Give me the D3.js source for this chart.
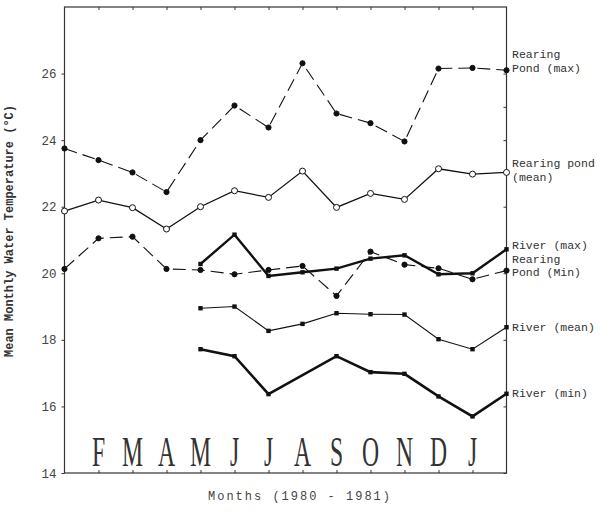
<!DOCTYPE html>
<html>
<head>
<meta charset="utf-8">
<script src="https://cdnjs.cloudflare.com/ajax/libs/d3/7.8.5/d3.min.js"></script>
<style>
  body { margin: 0; background: #fff; }
  svg { display: block; }
</style>
</head>
<body>
<svg width="600" height="518"></svg>
<script>
// month letters under the plot, index 1..12 (index 0 and 13 are the axis edges)
var months = ["F","M","A","M","J","J","A","S","O","N","D","J"];
var yTicks = [14, 16, 18, 20, 22, 24, 26];

// mean monthly water temperature, one value per month index 0..13
var pondMax  = [23.75, 23.4, 23.03, 22.44, 24.0, 25.04, 24.38, 26.31, 24.8, 24.51, 23.96, 26.15, 26.17, 26.1];
var pondMean = [21.87, 22.2, 21.97, 21.33, 22.0, 22.48, 22.28, 23.07, 21.98, 22.4, 22.22, 23.14, 22.98, 23.03];
var pondMin  = [20.13, 21.05, 21.1, 20.13, 20.1, 19.97, 20.1, 20.22, 19.32, 20.65, 20.26, 20.15, 19.82, 20.08];
var riverMax  = [null, null, null, null, 20.28, 21.16, 19.92, 20.03, 20.14, 20.44, 20.54, 19.97, 20.0, 20.72];
var riverMean = [null, null, null, null, 18.95, 19.0, 18.27, 18.48, 18.8, 18.77, 18.76, 18.02, 17.72, 18.38];
var riverMin  = [null, null, null, null, 17.72, 17.51, 16.37, null, 17.51, 17.03, 16.98, 16.3, 15.7, 16.38];

var svg = d3.select("svg");
var x = d3.scaleLinear().domain([0, 13]).range([64.5, 506.5]);
var y = d3.scaleLinear().domain([14, 28]).range([473, 7]);

var mono = "'Liberation Mono', 'DejaVu Sans Mono', monospace";

// frame
svg.append("rect")
  .attr("x", x(0)).attr("y", y(28))
  .attr("width", x(13) - x(0)).attr("height", y(14) - y(28))
  .attr("fill", "none").attr("stroke", "#333").attr("stroke-width", 1.2);

// month ticks, bottom and top
var inner = d3.range(1, 13);
svg.append("g")
  .attr("transform", "translate(0," + y(14) + ")")
  .call(d3.axisBottom(x).tickValues(inner).tickSize(-3).tickFormat(""))
  .call(function(g) { g.select(".domain").remove(); });
svg.append("g")
  .attr("transform", "translate(0," + y(28) + ")")
  .call(d3.axisTop(x).tickValues(inner).tickSize(-3).tickFormat(""))
  .call(function(g) { g.select(".domain").remove(); });

// temperature axis left, ticks on right
var left = svg.append("g")
  .attr("transform", "translate(" + x(0) + ",0)")
  .call(d3.axisLeft(y).tickValues(yTicks).tickSize(3).tickPadding(5))
  .call(function(g) { g.select(".domain").remove(); });
left.selectAll("text")
  .attr("font-family", mono).attr("font-size", 12.5).attr("fill", "#444");
svg.append("g")
  .attr("transform", "translate(" + x(13) + ",0)")
  .call(d3.axisRight(y).tickValues(yTicks.concat([25])).tickSize(-3).tickFormat(""))
  .call(function(g) { g.select(".domain").remove(); });
svg.selectAll(".tick line").attr("stroke", "#333");

// big month letters
svg.append("g").selectAll("text")
  .data(months)
  .enter().append("text")
  .attr("transform", function(d, i) { return "translate(" + x(i + 1) + ",466) scale(0.55,1)"; })
  .attr("text-anchor", "middle")
  .attr("font-family", "'Liberation Serif', 'DejaVu Serif', serif")
  .attr("font-size", 43)
  .attr("fill", "#333")
  .text(function(d) { return d; });

var series = [
  { vals: pondMax,   width: 1.1, dash: "13,6", mark: "dot" },
  { vals: pondMean,  width: 1.3, dash: null,   mark: "ring" },
  { vals: pondMin,   width: 1.1, dash: "13,6", mark: "dot" },
  { vals: riverMax,  width: 2.4, dash: null,   mark: "square" },
  { vals: riverMean, width: 1.1, dash: null,   mark: "square" },
  { vals: riverMin,  width: 2.6, dash: null,   mark: "square" }
];

var line = d3.line()
  .x(function(d) { return x(d.i); })
  .y(function(d) { return y(d.v); });

series.forEach(function(s) {
  var pts = s.vals.map(function(v, i) { return { i: i, v: v }; })
    .filter(function(d) { return d.v != null; });
  svg.append("path")
    .datum(pts)
    .attr("d", line)
    .attr("fill", "none")
    .attr("stroke", "#111")
    .attr("stroke-width", s.width)
    .attr("stroke-dasharray", s.dash);
  var g = svg.append("g");
  if (s.mark == "square") {
    g.selectAll("rect").data(pts).enter().append("rect")
      .attr("x", function(d) { return x(d.i) - 2.2; })
      .attr("y", function(d) { return y(d.v) - 2.2; })
      .attr("width", 4.4).attr("height", 4.4)
      .attr("fill", "#111");
  } else {
    g.selectAll("circle").data(pts).enter().append("circle")
      .attr("cx", function(d) { return x(d.i); })
      .attr("cy", function(d) { return y(d.v); })
      .attr("r", s.mark == "ring" ? 3 : 2.6)
      .attr("fill", s.mark == "ring" ? "#fff" : "#111")
      .attr("stroke", "#111")
      .attr("stroke-width", 1);
  }
});

// series labels on the right
var labels = [
  { lines: ["Rearing", "Pond (max)"], y: 58 },
  { lines: ["Rearing pond", "(mean)"], y: 167 },
  { lines: ["River (max)", "Rearing", "Pond (Min)"], y: 249 },
  { lines: ["River (mean)"], y: 331 },
  { lines: ["River (min)"], y: 397 }
];
labels.forEach(function(l) {
  var t = svg.append("text")
    .attr("x", 512).attr("y", l.y)
    .attr("font-family", mono).attr("font-size", 11.5).attr("fill", "#333");
  l.lines.forEach(function(s, k) {
    t.append("tspan").attr("x", 512).attr("dy", k ? 13.5 : 0).text(s);
  });
});

// axis titles
svg.append("text")
  .attr("transform", "translate(13,231) rotate(-90)")
  .attr("text-anchor", "middle")
  .attr("font-family", mono).attr("font-size", 12).attr("font-weight", "bold")
  .attr("fill", "#333")
  .text("Mean Monthly Water Temperature (°C)");
svg.append("text")
  .attr("x", 300).attr("y", 500)
  .attr("text-anchor", "middle")
  .attr("font-family", mono).attr("font-size", 12).attr("letter-spacing", 2)
  .attr("fill", "#444")
  .text("Months (1980 - 1981)");
</script>
</body>
</html>
